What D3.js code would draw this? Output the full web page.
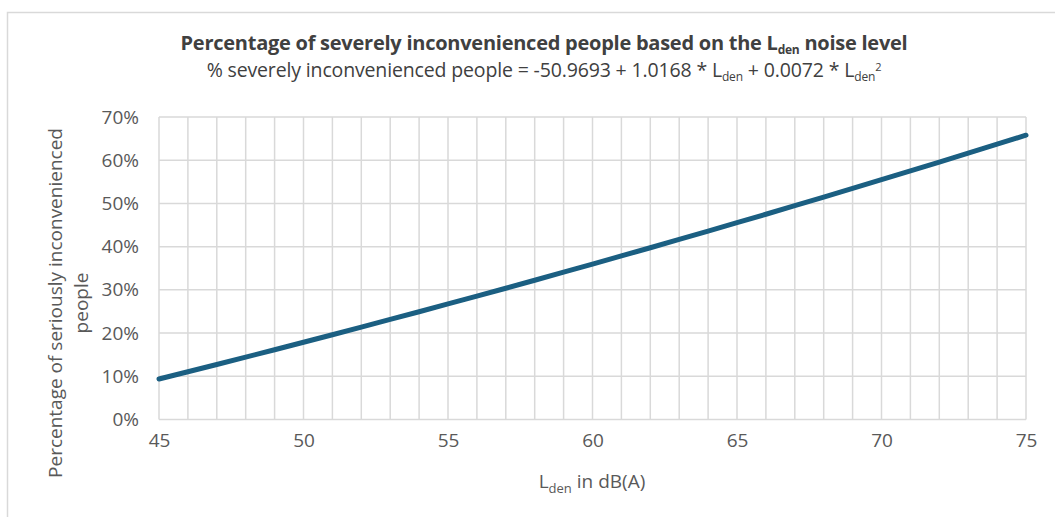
<!DOCTYPE html>
<html>
<head>
<meta charset="utf-8">
<script src="https://cdn.jsdelivr.net/npm/d3@7"></script>
<style>
  body { margin: 0; background: #fff; }
  text { font-family: "Open Sans", "Noto Sans", sans-serif; }
</style>
</head>
<body>
<div id="chart"></div>
<script>
// L_den values (dB(A)) and % severely inconvenienced
const lden = [45, 46, 47, 48, 49, 50, 51, 52, 53, 54, 55, 56, 57, 58, 59, 60,
              61, 62, 63, 64, 65, 66, 67, 68, 69, 70, 71, 72, 73, 74, 75];
const pct = [9.37, 11.04, 12.73, 14.43, 16.14, 17.87, 19.62, 21.37, 23.15, 24.93,
             26.74, 28.55, 30.38, 32.23, 34.09, 35.96, 37.85, 39.75, 41.67, 43.60,
             45.54, 47.50, 49.48, 51.47, 53.47, 55.49, 57.52, 59.57, 61.63, 63.70, 65.79];
const xTicks = [45, 50, 55, 60, 65, 70, 75];
const yTicks = [0, 10, 20, 30, 40, 50, 60, 70];

const W = 1055, H = 517;
const m = {left: 159, right: 1026, top: 117, bottom: 419.5};
const labelSize = "19px";

const svg = d3.select("#chart").append("svg")
    .attr("width", W).attr("height", H);

// outer chart frame
svg.append("rect")
    .attr("x", 7.5).attr("y", 12.5)
    .attr("width", 1100).attr("height", 600)
    .attr("fill", "none").attr("stroke", "#d9d9d9").attr("stroke-width", 1.5);

const x = d3.scaleLinear().domain([45, 75]).range([m.left, m.right]);
const y = d3.scaleLinear().domain([0, 70]).range([m.bottom, m.top]);

// grid
svg.append("g").selectAll("line")
    .data(d3.range(45, 76)).enter()
  .append("line")
    .attr("x1", d => x(d)).attr("x2", d => x(d))
    .attr("y1", m.top).attr("y2", m.bottom)
    .attr("stroke", "#d9d9d9").attr("stroke-width", 1.5);

svg.append("g").selectAll("line")
    .data(yTicks).enter()
  .append("line")
    .attr("x1", m.left).attr("x2", m.right)
    .attr("y1", d => y(d)).attr("y2", d => y(d))
    .attr("stroke", "#d9d9d9").attr("stroke-width", 1.5);

// axes (labels only)
const xAxis = svg.append("g")
    .attr("transform", `translate(0,${m.bottom})`)
    .call(d3.axisBottom(x).tickValues(xTicks).tickSize(0).tickPadding(14));
const yAxis = svg.append("g")
    .attr("transform", `translate(${m.left},0)`)
    .call(d3.axisLeft(y).tickValues(yTicks).tickSize(0).tickPadding(20)
        .tickFormat(d => d + "%"));
[xAxis, yAxis].forEach(a => {
    a.select(".domain").remove();
    a.attr("font-size", null).attr("font-family", null);
    a.selectAll("text")
        .style("font-size", labelSize)
        .attr("fill", "#595959");
});

// the curve
const line = d3.line()
    .x((d, i) => x(lden[i]))
    .y(d => y(d));
svg.append("path")
    .datum(pct)
    .attr("d", line)
    .attr("fill", "none")
    .attr("stroke", "#1b5f82")
    .attr("stroke-width", 5)
    .attr("stroke-linecap", "round");

// titles
const title = svg.append("text")
    .attr("x", 544).attr("y", 50)
    .attr("text-anchor", "middle")
    .attr("fill", "#404040")
    .style("font-size", "20px").style("font-weight", "bold")
    .style("letter-spacing", "-0.25px");
title.append("tspan").text("Percentage of severely inconvenienced people based on the L");
title.append("tspan").attr("dy", 4).style("font-size", "12px").text("den");
title.append("tspan").attr("dy", -4).text(" noise level");

const sub = svg.append("text")
    .attr("x", 544).attr("y", 77)
    .attr("text-anchor", "middle")
    .attr("fill", "#404040")
    .style("font-size", "19.5px")
    .style("letter-spacing", "-0.15px");
sub.append("tspan").text("% severely inconvenienced people = -50.9693 + 1.0168 * L");
sub.append("tspan").attr("dy", 4).style("font-size", "12px").text("den");
sub.append("tspan").attr("dy", -4).text(" + 0.0072 * L");
sub.append("tspan").attr("dy", 4).style("font-size", "12px").text("den");
sub.append("tspan").attr("dy", -10).style("font-size", "11px").text("2");

// axis titles
const xt = svg.append("text")
    .attr("x", 592).attr("y", 488)
    .attr("text-anchor", "middle")
    .attr("fill", "#595959")
    .style("font-size", labelSize);
xt.append("tspan").text("L");
xt.append("tspan").attr("dy", 5).style("font-size", "13px").text("den");
xt.append("tspan").attr("dy", -5).text(" in dB(A)");

const yt = svg.append("text")
    .attr("transform", "translate(62,303) rotate(-90)")
    .attr("text-anchor", "middle")
    .attr("fill", "#595959")
    .style("font-size", labelSize);
yt.append("tspan").attr("x", 0).attr("y", 0).text("Percentage of seriously inconvenienced");
yt.append("tspan").attr("x", 0).attr("y", 26).text("people");
</script>
</body>
</html>
